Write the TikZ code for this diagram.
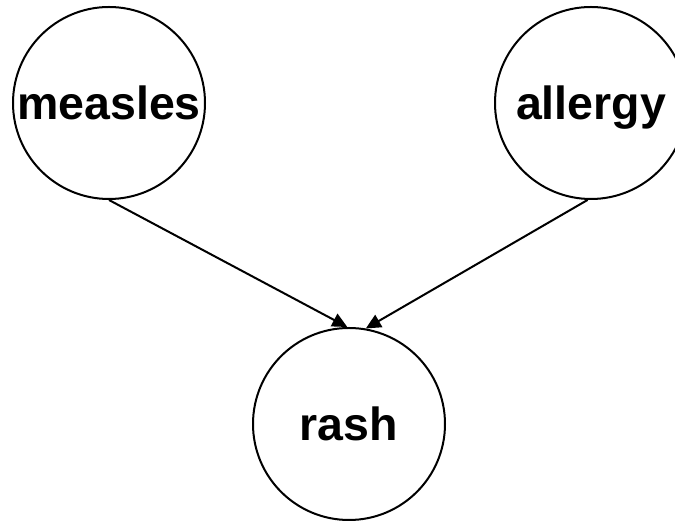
\documentclass[tikz,border=0pt]{standalone}
\usepackage{fontspec}
\setmainfont{Liberation Sans}
\usetikzlibrary{arrows.meta}
\begin{document}
\begin{tikzpicture}[x=1pt,y=1pt,
  varnode/.style={circle,draw,line width=2pt,minimum size=192pt,inner sep=0pt,
    font=\fontsize{46.5}{50}\selectfont\bfseries,text depth=0pt},
  edge/.style={line width=2pt,-{Triangle[length=15pt,width=14pt]}}]
\useasboundingbox (0,0) rectangle (675,521);
\node[varnode] (measles) at (109,418) {measles};
\node[varnode] (allergy) at (591,418) {allergy};
\node[varnode] (rash) at (349,97) {rash};
\draw[edge] (measles.south) -- (rash.91);
\draw[edge] (allergy.268) -- (rash.80);
\end{tikzpicture}
\end{document}
